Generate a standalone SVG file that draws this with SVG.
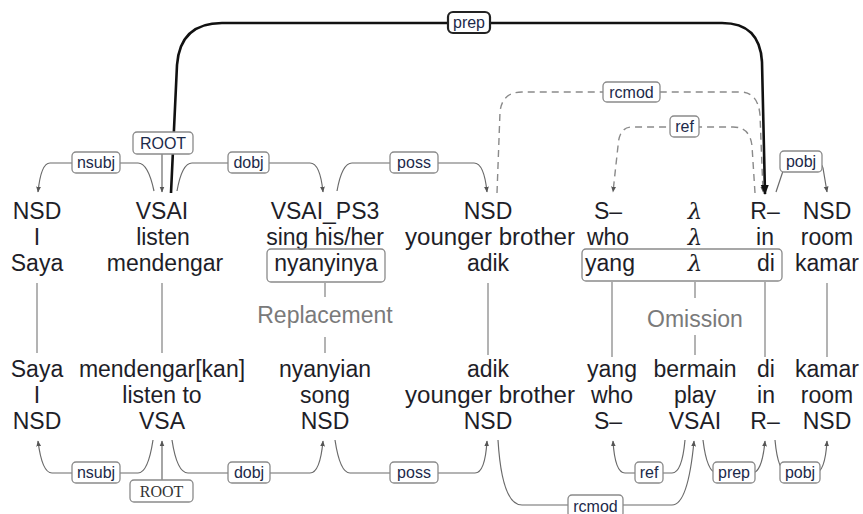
<svg xmlns="http://www.w3.org/2000/svg" width="863" height="514" viewBox="0 0 863 514">
<defs>
<style>
.w{font-family:"Liberation Sans","DejaVu Sans",sans-serif;font-size:23px;fill:#1e1e28;text-anchor:middle}
.g{font-family:"Liberation Sans","DejaVu Sans",sans-serif;font-size:23px;fill:#7a7a7a;text-anchor:middle}
.lb{font-family:"Liberation Sans","DejaVu Sans",sans-serif;font-size:16px;fill:#1c2a4a;text-anchor:middle}
.lbs{font-family:"Liberation Serif","DejaVu Serif",serif;font-size:16px;fill:#333;text-anchor:middle}
.box{fill:#fff;stroke:#8a8a8a;stroke-width:1.3}
.arc{fill:none;stroke:#6a6a6a;stroke-width:1.2}
.dash{fill:none;stroke:#8a8a8a;stroke-width:1.4;stroke-dasharray:7 5}
.vl{stroke:#8a8a8a;stroke-width:1.3}
.frame{fill:none;stroke:#8a8a8a;stroke-width:1.3}
.lam{font-family:"DejaVu Serif",serif;font-style:italic}
</style>
<marker id="ah" viewBox="0 0 10 10" refX="9" refY="5" markerWidth="6" markerHeight="6" markerUnits="userSpaceOnUse" orient="auto"><path d="M0,1 L10,5 L0,9 z" fill="#555"/></marker>
<marker id="ahb" viewBox="0 0 10 10" refX="9" refY="5" markerWidth="10" markerHeight="10" markerUnits="userSpaceOnUse" orient="auto"><path d="M0,1 L10,5 L0,9 z" fill="#111"/></marker>
</defs>

<g id="connectors">
<path class="arc" marker-end="url(#ah)" d="M154 191 Q148 163 138 163 L50 163 Q41 163 38 192"/>
<path class="arc" marker-end="url(#ah)" d="M162 154 L162 192"/>
<path class="arc" marker-end="url(#ah)" d="M177 191 Q182 163 192 163 L310 163 Q320 163 323 192"/>
<path class="arc" marker-end="url(#ah)" d="M337 191 Q342 163 352 163 L474 163 Q484 163 487 192"/>
<path class="dash" marker-end="url(#ah)" d="M497 193 L500 112 Q502 92 522 92 L740 92 Q758 92 760 115 L763 192"/>
<path class="dash" marker-end="url(#ah)" d="M755 193 L752 146 Q750 127 733 127 L632 127 Q619 127 618 146 L613 192"/>
<path fill="none" stroke="#111" stroke-width="2.6" marker-end="url(#ahb)" d="M171 193 L177 65 Q180 23 222 23 L722 23 Q760 23 762 62 L765 194"/>
<path class="arc" marker-end="url(#ah)" d="M776 192 L784 168 Q786 163 792 163 L815 163 Q822 163 823 168 L827 192"/>
<path class="arc" marker-end="url(#ah)" d="M153 440 Q148 473 138 473 L52 473 Q42 473 38 441"/>
<path class="arc" marker-end="url(#ah)" d="M162 480 L162 441"/>
<path class="arc" marker-end="url(#ah)" d="M172 440 Q177 473 188 473 L310 473 Q320 473 323 441"/>
<path class="arc" marker-end="url(#ah)" d="M335 440 Q340 473 350 473 L475 473 Q485 473 487 441"/>
<path class="arc" marker-end="url(#ah)" d="M498 440 Q502 505 522 505 L672 505 Q688 505 694 441"/>
<path class="arc" marker-end="url(#ah)" d="M685 440 Q682 473 672 473 L625 473 Q615 473 613 441"/>
<path class="arc" marker-end="url(#ah)" d="M703 440 Q707 473 717 473 L752 473 Q762 473 765 441"/>
<path class="arc" marker-end="url(#ah)" d="M775 440 Q778 473 788 473 L815 473 Q825 473 827 441"/>
<line class="vl" x1="37" y1="283" x2="37" y2="353"/>
<line class="vl" x1="162" y1="283" x2="162" y2="353"/>
<line class="vl" x1="325" y1="283" x2="325" y2="297"/>
<line class="vl" x1="325" y1="337" x2="325" y2="353"/>
<line class="vl" x1="488" y1="283" x2="488" y2="355"/>
<line class="vl" x1="612" y1="282" x2="612" y2="357"/>
<line class="vl" x1="695" y1="282" x2="695" y2="298"/>
<line class="vl" x1="695" y1="335" x2="695" y2="355"/>
<line class="vl" x1="765" y1="282" x2="765" y2="357"/>
<line class="vl" x1="827" y1="283" x2="827" y2="357"/>
</g>

<g id="labels">
<g id="lbl-nsubj-top"><rect class="box" x="72" y="152" width="48" height="21" rx="4"/><text class="lb" x="96" y="168">nsubj</text></g>
<g id="lbl-root-top"><rect class="box" x="133" y="132" width="60" height="22" rx="4"/><text class="lb" x="163" y="149">ROOT</text></g>
<g id="lbl-dobj-top"><rect class="box" x="228" y="152" width="41" height="21" rx="4"/><text class="lb" x="248.5" y="168">dobj</text></g>
<g id="lbl-poss-top"><rect class="box" x="390" y="152" width="48" height="21" rx="4"/><text class="lb" x="414" y="168">poss</text></g>
<g id="lbl-prep-top"><rect x="448" y="12" width="42" height="21" rx="5" fill="#fff" stroke="#222" stroke-width="2.2"/><text class="lb" x="469" y="28">prep</text></g>
<g id="lbl-rcmod-top"><rect class="box" x="603" y="82" width="57" height="20" rx="4"/><text class="lb" x="631.5" y="98">rcmod</text></g>
<g id="lbl-ref-top"><rect class="box" x="670" y="116" width="29" height="21" rx="4"/><text class="lb" x="684.5" y="132">ref</text></g>
<g id="lbl-pobj-top"><rect class="box" x="780" y="151" width="42" height="21" rx="4"/><text class="lb" x="801" y="167">pobj</text></g>

<g id="lbl-nsubj-bot"><rect class="box" x="72" y="462" width="48" height="21" rx="4"/><text class="lb" x="96" y="478">nsubj</text></g>
<g id="lbl-root-bot"><rect class="box" x="130" y="480" width="63" height="22" rx="4"/><text class="lbs" x="161.5" y="497">ROOT</text></g>
<g id="lbl-dobj-bot"><rect class="box" x="228" y="462" width="42" height="21" rx="4"/><text class="lb" x="249" y="478">dobj</text></g>
<g id="lbl-poss-bot"><rect class="box" x="390" y="462" width="48" height="21" rx="4"/><text class="lb" x="414" y="478">poss</text></g>
<g id="lbl-rcmod-bot"><rect class="box" x="568" y="495" width="55" height="22" rx="4"/><text class="lb" x="595.5" y="512">rcmod</text></g>
<g id="lbl-ref-bot"><rect class="box" x="635" y="462" width="28" height="21" rx="4"/><text class="lb" x="649" y="478">ref</text></g>
<g id="lbl-prep-bot"><rect class="box" x="713" y="462" width="42" height="21" rx="4"/><text class="lb" x="734" y="478">prep</text></g>
<g id="lbl-pobj-bot"><rect class="box" x="780" y="462" width="40" height="21" rx="4"/><text class="lb" x="800" y="478">pobj</text></g>
</g>

<g id="t-saya"><text class="w" x="37" y="219">NSD</text><text class="w" x="37" y="245">I</text><text class="w" x="37" y="271">Saya</text></g>
<g id="t-mendengar"><text class="w" x="162" y="219">VSAI</text><text class="w" x="163" y="245">listen</text><text class="w" x="165" y="271">mendengar</text></g>
<g id="t-nyanyinya"><text class="w" x="325" y="219">VSAI_PS3</text><text class="w" x="325" y="245">sing his/her</text><rect class="frame" x="267" y="249" width="118" height="33" rx="4"/><text class="w" x="326" y="271">nyanyinya</text></g>
<g id="t-adik"><text class="w" x="488" y="219">NSD</text><text class="w" x="490" y="245" textLength="170" lengthAdjust="spacingAndGlyphs">younger brother</text><text class="w" x="488" y="271">adik</text></g>
<g id="t-omit"><rect class="frame" x="582" y="249" width="200" height="32" rx="4"/>
<text class="w" x="608" y="219">S–</text><text class="w" x="608" y="245">who</text><text class="w" x="610" y="271">yang</text>
<text class="w lam" x="695" y="219">λ</text><text class="w lam" x="695" y="245">λ</text><text class="w lam" x="695" y="271">λ</text>
<text class="w" x="765" y="219">R–</text><text class="w" x="765" y="245">in</text><text class="w" x="766" y="271">di</text></g>
<g id="t-kamar"><text class="w" x="827" y="219">NSD</text><text class="w" x="827" y="245">room</text><text class="w" x="827" y="271">kamar</text></g>

<g id="t-replacement"><text class="g" x="325" y="323">Replacement</text></g>
<g id="t-omission"><text class="g" x="695" y="327">Omission</text></g>

<g id="b-saya"><text class="w" x="37" y="377">Saya</text><text class="w" x="37" y="403">I</text><text class="w" x="37" y="429">NSD</text></g>
<g id="b-mendengarkan"><text class="w" x="162" y="377">mendengar[kan]</text><text class="w" x="162" y="403">listen to</text><text class="w" x="162" y="429">VSA</text></g>
<g id="b-nyanyian"><text class="w" x="325" y="377">nyanyian</text><text class="w" x="325" y="403">song</text><text class="w" x="325" y="429">NSD</text></g>
<g id="b-adik"><text class="w" x="488" y="377">adik</text><text class="w" x="490" y="403" textLength="170" lengthAdjust="spacingAndGlyphs">younger brother</text><text class="w" x="488" y="429">NSD</text></g>
<g id="b-yang"><text class="w" x="612" y="377">yang</text><text class="w" x="612" y="403">who</text><text class="w" x="608" y="429">S–</text></g>
<g id="b-bermain"><text class="w" x="695" y="377">bermain</text><text class="w" x="695" y="403">play</text><text class="w" x="695" y="429">VSAI</text></g>
<g id="b-di"><text class="w" x="766" y="377">di</text><text class="w" x="766" y="403">in</text><text class="w" x="765" y="429">R–</text></g>
<g id="b-kamar"><text class="w" x="827" y="377">kamar</text><text class="w" x="827" y="403">room</text><text class="w" x="827" y="429">NSD</text></g>
</svg>
